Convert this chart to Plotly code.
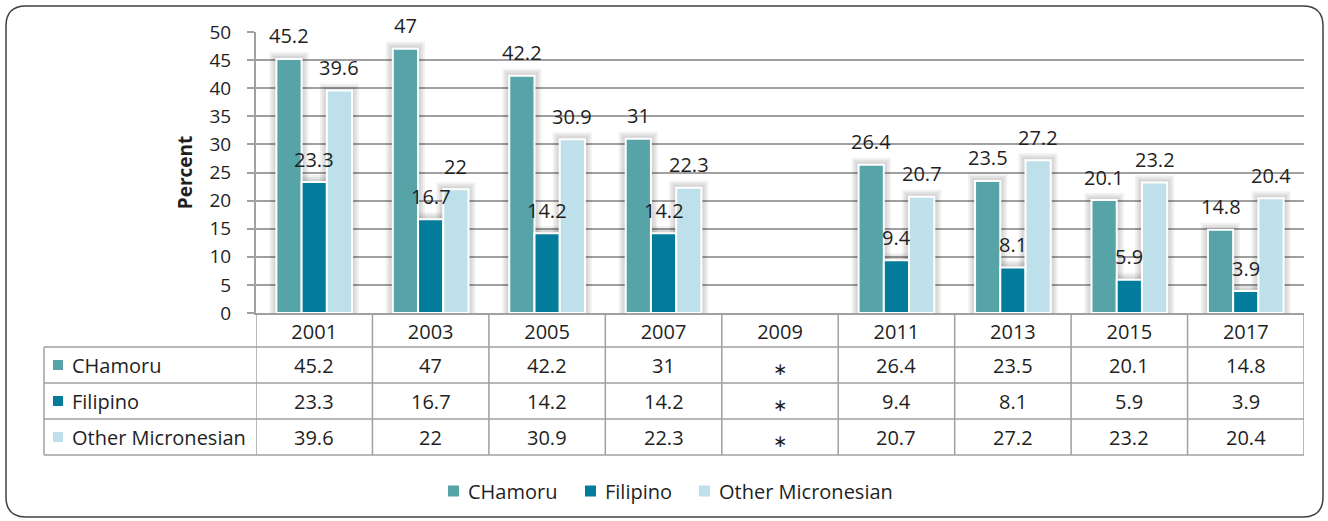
import plotly.graph_objects as go

years = ["2001", "2003", "2005", "2007", "2009", "2011", "2013", "2015", "2017"]
series_names = ["CHamoru", "Filipino", "Other Micronesian"]
chamoru = [45.2, 47, 42.2, 31, None, 26.4, 23.5, 20.1, 14.8]
filipino = [23.3, 16.7, 14.2, 14.2, None, 9.4, 8.1, 5.9, 3.9]
other_micronesian = [39.6, 22, 30.9, 22.3, None, 20.7, 27.2, 23.2, 20.4]
missing_mark = "\u2217"
y_ticks = [0, 5, 10, 15, 20, 25, 30, 35, 40, 45, 50]

series_values = [chamoru, filipino, other_micronesian]
colors = ["#56A4A8", "#037B9B", "#BEE0EB"]

W, H = 1328, 521
FONT = "Open Sans"
FS = 20
TXT = "#1F1F1F"
GRID = "#A0A0A0"


def fx(px):
    return px / W


def fy(py):
    return 1 - py / H


plot_l, plot_r, plot_t, plot_b = 256, 1304, 32, 313
y_max = 50
bargap = 0.35
n_cat = len(years)
n_ser = len(series_names)
cat_px = (plot_r - plot_l) / n_cat
px_per_unit = (plot_b - plot_t) / y_max
bar_w = (1 - bargap) / n_ser          # bar width in category units
bar_px = bar_w * cat_px

fig = go.Figure()

# soft drop shadows behind bars (layers of translucent grey)
for e in [7, 5, 3]:
    ew = e / cat_px
    eh = e / px_per_unit
    for k, vals in enumerate(series_values):
        center = (k - (n_ser - 1) / 2) * bar_w
        fig.add_trace(go.Bar(
            x=years, y=[None if v is None else v + eh for v in vals],
            width=bar_w + 2 * ew, offset=center - bar_w / 2 - ew,
            marker=dict(color="rgba(0,0,0,0.055)", line=dict(width=0)),
            showlegend=False, hoverinfo="skip",
        ))

for k, (name, vals, col) in enumerate(zip(series_names, series_values, colors)):
    center = (k - (n_ser - 1) / 2) * bar_w
    fig.add_trace(go.Bar(
        name=name, x=years, y=vals, width=bar_w, offset=center - bar_w / 2,
        marker=dict(color=col, line=dict(color="white", width=2)),
        showlegend=False,
    ))

annotations = []
# data labels above bars
for k, vals in enumerate(series_values):
    for i, v in enumerate(vals):
        if v is None:
            continue
        annotations.append(dict(
            x=i, y=v, xref="x", yref="y", text=f"{v:g}", showarrow=False,
            xshift=(k - (n_ser - 1) / 2) * bar_px, yshift=23,
            font=dict(family=FONT, size=FS, color=TXT),
        ))

# data table
row_tops = [347, 383, 419, 455]
for k, (name, vals, col) in enumerate(zip(series_names, series_values, colors)):
    yc = (row_tops[k] + row_tops[k + 1]) / 2
    for i, v in enumerate(vals):
        if v is None:
            annotations.append(dict(
                x=i, y=fy(yc), xref="x", yref="paper", showarrow=False,
                text=missing_mark, yanchor="middle", yshift=-4,
                font=dict(family="DejaVu Sans", size=17, color=TXT),
            ))
        else:
            annotations.append(dict(
                x=i, y=fy(yc), xref="x", yref="paper", showarrow=False,
                text=f"{v:g}", yanchor="middle",
                font=dict(family=FONT, size=FS, color=TXT),
            ))
    annotations.append(dict(
        x=fx(70), y=fy(yc), xref="paper", yref="paper", showarrow=False,
        text=name, xanchor="left", yanchor="middle",
        font=dict(family=FONT, size=FS, color=TXT),
    ))

shapes = []
for k, col in enumerate(colors):
    yc = (row_tops[k] + row_tops[k + 1]) / 2
    shapes.append(dict(type="rect", xref="paper", yref="paper",
                       x0=fx(53), x1=fx(63), y0=fy(yc - 5), y1=fy(yc + 5),
                       fillcolor=col, line=dict(width=0)))
for yt in row_tops:
    shapes.append(dict(type="line", xref="paper", yref="paper",
                       x0=fx(44), x1=fx(plot_r), y0=fy(yt), y1=fy(yt),
                       line=dict(color=GRID, width=1.5)))
shapes.append(dict(type="line", xref="paper", yref="paper",
                   x0=fx(44), x1=fx(44), y0=fy(row_tops[0]), y1=fy(row_tops[-1]),
                   line=dict(color=GRID, width=1.5)))
for i in range(n_cat + 1):
    xv = i - 0.5
    shapes.append(dict(type="line", xref="x", yref="paper",
                       x0=xv, x1=xv, y0=fy(plot_b), y1=fy(row_tops[-1]),
                       line=dict(color=GRID, width=1.5)))

# legend (bottom)
legend_square_x = [448, 585, 699]
legend_y = 491
for name, col, sx in zip(series_names, colors, legend_square_x):
    shapes.append(dict(type="rect", xref="paper", yref="paper",
                       x0=fx(sx), x1=fx(sx + 11), y0=fy(legend_y - 5.5), y1=fy(legend_y + 5.5),
                       fillcolor=col, line=dict(width=0)))
    annotations.append(dict(
        x=fx(sx + 18), y=fy(legend_y), xref="paper", yref="paper", showarrow=False,
        text=name, xanchor="left", yanchor="middle",
        font=dict(family=FONT, size=FS, color=TXT),
    ))

# rounded outer border
x0, x1, y0, y1, r = 6, 1323, 6, 517, 20
pts = [
    f"M {fx(x0 + r)},{fy(y0)}",
    f"L {fx(x1 - r)},{fy(y0)}",
    f"Q {fx(x1)},{fy(y0)} {fx(x1)},{fy(y0 + r)}",
    f"L {fx(x1)},{fy(y1 - r)}",
    f"Q {fx(x1)},{fy(y1)} {fx(x1 - r)},{fy(y1)}",
    f"L {fx(x0 + r)},{fy(y1)}",
    f"Q {fx(x0)},{fy(y1)} {fx(x0)},{fy(y1 - r)}",
    f"L {fx(x0)},{fy(y0 + r)}",
    f"Q {fx(x0)},{fy(y0)} {fx(x0 + r)},{fy(y0)} Z",
]
shapes.append(dict(type="path", xref="paper", yref="paper", path=" ".join(pts),
                   line=dict(color="#404040", width=1.5)))

fig.update_layout(
    width=W, height=H,
    margin=dict(l=0, r=0, t=0, b=0, autoexpand=False),
    paper_bgcolor="white", plot_bgcolor="white",
    barmode="overlay",
    showlegend=False,
    font=dict(family=FONT, size=FS, color=TXT),
    xaxis=dict(
        domain=[fx(plot_l), fx(plot_r)], type="category", automargin=False,
        categoryorder="array", categoryarray=years, range=[-0.5, n_cat - 0.5],
        showline=True, linecolor=GRID, linewidth=2, ticks="", showgrid=False,
        tickfont=dict(family=FONT, size=FS, color=TXT),
    ),
    yaxis=dict(
        domain=[fy(plot_b), fy(plot_t)], range=[0, y_max], automargin=False,
        tickvals=y_ticks, showline=True, linecolor=GRID, linewidth=2,
        ticks="outside", ticklen=7, tickcolor=GRID, tickwidth=1.5,
        ticklabelstandoff=12,
        showgrid=True, gridcolor=GRID, gridwidth=1.5, zeroline=False,
        tickfont=dict(family=FONT, size=19, color=TXT),
        title=dict(text="<b>Percent</b>", standoff=12,
                   font=dict(family=FONT, size=19, color=TXT)),
    ),
    annotations=annotations, shapes=shapes,
)

fig.write_html(
    "out.html",
    config={"displayModeBar": False, "responsive": False},
    post_script="document.body.style.margin='0';document.body.style.overflow='hidden';",
)
